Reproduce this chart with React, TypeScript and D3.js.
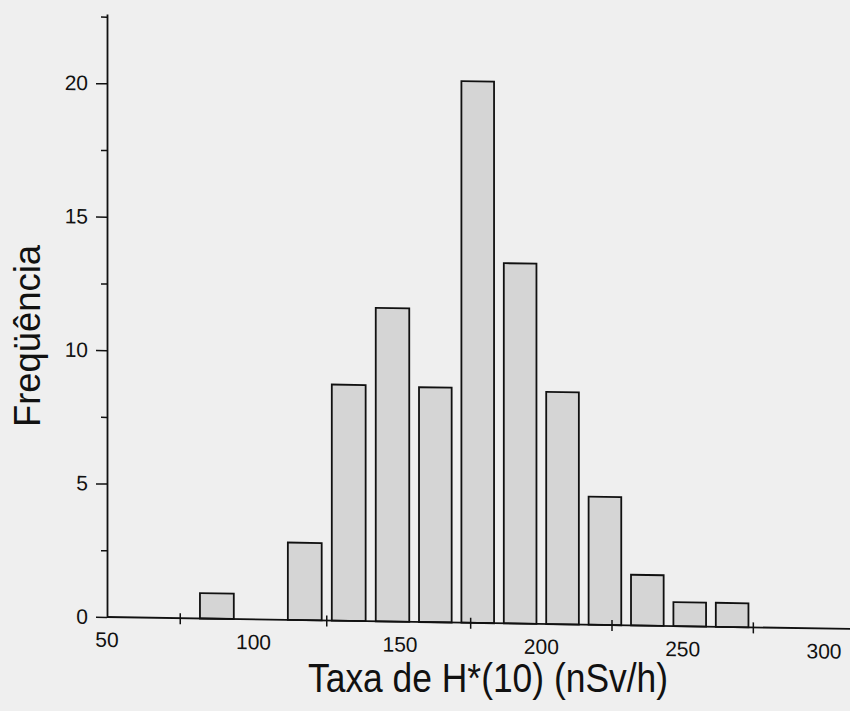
import React, { useEffect, useRef } from "react";
import * as d3 from "d3";

// histogram bins (lower edge, nSv/h) and counts
const binStart = [80, 95, 110, 125, 140, 155, 170, 185, 200, 215, 230, 245, 260];
const frequency = [0.95, 0, 2.9, 8.85, 11.75, 8.8, 20.3, 13.5, 8.7, 4.8, 1.9, 0.9, 0.9];
const binWidth = 15;

const xLabels = [50, 100, 150, 200, 250, 300];
const xTicks = [75, 125, 175, 225, 275];
const yLabels = [0, 5, 10, 15, 20];
const yMinor = [2.5, 7.5, 12.5, 17.5, 22.5];

const W = 850;
const H = 711;
const FONT = "'Liberation Sans', Arial, sans-serif";

export default function App() {
  const ref = useRef<SVGSVGElement>(null);

  useEffect(() => {
    const svg = d3.select(ref.current);
    svg.selectAll("*").remove();

    // scanned page: the x scale is slightly stretched on the left
    const x = d3.scaleLinear().domain([50, 150, 300]).range([107, 400, 824]);
    const y = d3.scaleLinear().domain([0, 22.6]).range([617, 14]);
    const x0 = x(50);
    const skew = 0.92; // scan tilt of the baseline, degrees

    svg.append("rect").attr("width", W).attr("height", H).attr("fill", "#efefef");

    const g = svg
      .append("g")
      .attr("transform", `translate(${x0},0) skewY(${skew}) translate(${-x0},0)`);

    const pad = binWidth * 0.115;
    g.selectAll("rect.bar")
      .data(binStart.map((s, i) => ({ s, f: frequency[i] })).filter((d) => d.f > 0))
      .join("rect")
      .attr("class", "bar")
      .attr("x", (d) => x(d.s + pad))
      .attr("width", (d) => x(d.s + binWidth - pad) - x(d.s + pad))
      .attr("y", (d) => y(d.f))
      .attr("height", (d) => y(0) - y(d.f))
      .attr("fill", "#d5d5d5")
      .attr("stroke", "#111")
      .attr("stroke-width", 1.8);

    // x axis
    g.append("line")
      .attr("x1", x(50))
      .attr("x2", x(312))
      .attr("y1", y(0))
      .attr("y2", y(0))
      .attr("stroke", "#111")
      .attr("stroke-width", 1.8);

    g.selectAll("line.xt")
      .data(xTicks)
      .join("line")
      .attr("class", "xt")
      .attr("x1", (d) => x(d))
      .attr("x2", (d) => x(d))
      .attr("y1", y(0) - 5)
      .attr("y2", y(0) + 6)
      .attr("stroke", "#111")
      .attr("stroke-width", 1.5);

    g.selectAll("text.xl")
      .data(xLabels)
      .join("text")
      .attr("class", "xl")
      .attr("x", (d) => x(d))
      .attr("y", y(0) + 30)
      .attr("text-anchor", "middle")
      .attr("font-family", FONT)
      .attr("font-size", 21)
      .attr("fill", "#111")
      .text((d) => d);

    // y axis
    const yAxis = g
      .append("g")
      .attr("transform", `translate(${x0},0)`)
      .call(d3.axisLeft(y).tickValues(yLabels).tickSize(11).tickSizeOuter(0).tickPadding(8));
    yAxis.select(".domain").attr("stroke", "#111").attr("stroke-width", 1.8);
    yAxis.selectAll(".tick line").attr("stroke", "#111").attr("stroke-width", 1.5);
    yAxis
      .selectAll(".tick text")
      .attr("font-family", FONT)
      .attr("font-size", 21)
      .attr("fill", "#111");

    const yMinorAxis = g
      .append("g")
      .attr("transform", `translate(${x0},0)`)
      .call(d3.axisLeft(y).tickValues(yMinor).tickSize(6).tickFormat(() => ""));
    yMinorAxis.select(".domain").remove();
    yMinorAxis.selectAll(".tick line").attr("stroke", "#111").attr("stroke-width", 1.5);

    // titles
    svg
      .append("text")
      .attr("x", 488)
      .attr("y", 692)
      .attr("text-anchor", "middle")
      .attr("font-family", FONT)
      .attr("font-size", 40)
      .attr("textLength", 360)
      .attr("lengthAdjust", "spacingAndGlyphs")
      .attr("fill", "#111")
      .text("Taxa de H*(10) (nSv/h)");

    svg
      .append("text")
      .attr("transform", "translate(40,336) rotate(-90)")
      .attr("text-anchor", "middle")
      .attr("font-family", FONT)
      .attr("font-size", 36)
      .attr("textLength", 182)
      .attr("lengthAdjust", "spacingAndGlyphs")
      .attr("fill", "#111")
      .text("Freqüência");
  }, []);

  return (
    <div style={{ position: "absolute", left: 0, top: 0 }}>
      <svg ref={ref} width={W} height={H} />
    </div>
  );
}
